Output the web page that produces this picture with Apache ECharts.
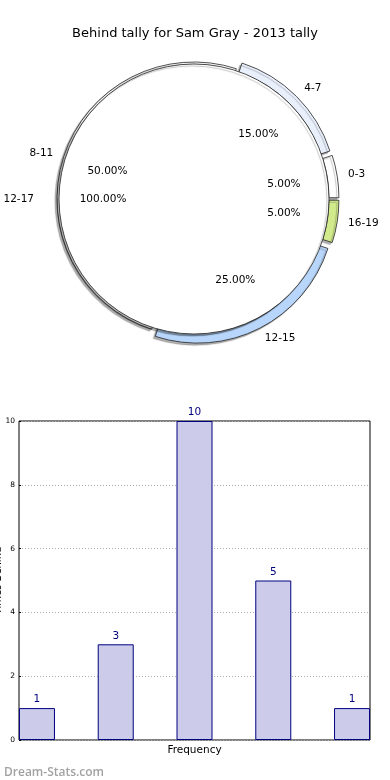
<!DOCTYPE html>
<html>
<head>
<meta charset="utf-8">
<script src="https://cdn.jsdelivr.net/npm/echarts@6/dist/echarts.min.js"></script>
<style>
html,body{margin:0;padding:0;background:#fff;}
#chart{width:390px;height:780px;}
</style>
</head>
<body>
<div id="chart"></div>
<script>
// ---- data ----
var titleText = 'Behind tally for Sam Gray - 2013 tally';
var ringCategories = ['0-3', '4-7', '8-11', '12-15', '16-19'];
var ringValues = [1, 3, 10, 5, 1];
var ringColors = ['#ffffff', '#e9f0fc', '#ffffff', '#b8d6fb', '#d1ea8c'];
var ringExploded = [true, true, false, true, true];
var innerCategories = ['12-17'];
var innerValues = [20];
var barCategories = ['0-3', '4-7', '8-11', '12-15', '16-19'];
var barValues = [1, 3, 10, 5, 1];
var yTicks = [0, 2, 4, 6, 8, 10];
var xAxisName = 'Frequency';
var yAxisName = 'Times Behind';
var watermark = 'Dream-Stats.com';

// ---- layout ----
var CENTER = [194, 199];
var R = 135;
var shadow = {shadowBlur: 1, shadowColor: 'rgba(0,0,0,0.3)', shadowOffsetX: -2, shadowOffsetY: 2};
var barHalf = 0.228;

var chart = echarts.init(document.getElementById('chart'), null, {renderer: 'canvas'});

var ringData = ringCategories.map(function (c, i) {
  return {name: c, value: ringValues[i], selected: ringExploded[i],
    itemStyle: {color: ringColors[i]}};
});
var ringPctData = ringCategories.map(function (c, i) {
  return {name: c, value: ringValues[i]};
});
var innerData = innerCategories.map(function (c, i) {
  return {name: c, value: innerValues[i]};
});

var pctLabel = {
  show: true, position: 'inside', color: '#000', fontSize: 10.5,
  formatter: function (p) { return p.percent.toFixed(2) + '%'; }
};
var nameLabelBase = {show: true, position: 'outside', color: '#000', fontSize: 10.5,
  distanceToLabelLine: 0, overflow: 'none', edgeDistance: 0};

var option = {
  animation: false,
  textStyle: {fontFamily: 'DejaVu Sans'},
  title: [
    {text: titleText, left: 'center', top: 22,
      textStyle: {fontSize: 13, fontWeight: 'normal', color: '#000', fontFamily: 'DejaVu Sans'}},
    {text: watermark, left: -1, top: 762,
      textStyle: {fontSize: 12, fontWeight: 600, color: '#a2a2a2', fontFamily: 'Open Sans'}}
  ],
  grid: {left: 19, top: 421, width: 351, height: 319, show: true,
    outerBoundsMode: 'none', containLabel: false,
    borderColor: '#000', borderWidth: 1, backgroundColor: '#fff'},
  xAxis: {
    type: 'value', min: 0, max: 4 + 2 * barHalf,
    axisLabel: {show: false}, axisTick: {show: false}, axisLine: {show: false},
    splitLine: {show: false},
    name: xAxisName, nameLocation: 'middle', nameGap: 5,
    nameTextStyle: {fontSize: 10.5, color: '#000'}
  },
  yAxis: {
    type: 'value', min: yTicks[0], max: yTicks[yTicks.length - 1], interval: 2,
    axisLine: {show: false},
    axisTick: {show: true, inside: true, length: 2, lineStyle: {color: '#000'}},
    axisLabel: {fontSize: 7.5, color: '#000', margin: 4},
    splitLine: {show: true, lineStyle: {type: [1, 2], color: '#aaaaaa', width: 1}},
    name: yAxisName, nameLocation: 'middle', nameRotate: 90, nameGap: 16,
    nameMoveOverlap: false,
    nameTextStyle: {fontSize: 10, color: '#000'}
  },
  series: [
    {
      type: 'pie', z: 2, center: CENTER, radius: [R - 8, R + 2],
      clockwise: false, startAngle: 0, selectedMode: 'multiple', selectedOffset: 8,
      avoidLabelOverlap: false,
      emphasis: {disabled: true, scale: false},
      itemStyle: Object.assign({borderColor: '#222', borderWidth: 0.8}, shadow),
      label: Object.assign({}, nameLabelBase),
      labelLine: {show: false, length: 11, length2: 0},
      data: ringData
    },
    {
      type: 'pie', z: 3, center: CENTER, radius: [0, R],
      clockwise: false, startAngle: 0,
      emphasis: {disabled: true, scale: false},
      itemStyle: Object.assign({color: '#ffffff', borderColor: '#222', borderWidth: 0.8}, shadow),
      label: Object.assign({}, nameLabelBase),
      labelLine: {show: false, length: 25, length2: 0},
      data: innerData
    },
    {
      type: 'pie', z: 4, center: CENTER, radius: [0, 176],
      clockwise: false, startAngle: 0, silent: true,
      emphasis: {disabled: true, scale: false},
      itemStyle: {color: 'rgba(0,0,0,0)', borderWidth: 0},
      label: pctLabel, labelLine: {show: false},
      data: ringPctData
    },
    {
      type: 'pie', z: 4, center: CENTER, radius: [0, 176],
      clockwise: false, startAngle: 0, silent: true,
      emphasis: {disabled: true, scale: false},
      itemStyle: {color: 'rgba(0,0,0,0)', borderWidth: 0},
      label: pctLabel, labelLine: {show: false},
      data: innerData
    },
    {
      type: 'bar', barWidth: 36,
      itemStyle: {color: '#ccccea', borderColor: '#00007f', borderWidth: 1},
      label: {show: true, position: 'top', distance: 3, color: '#00007f', fontSize: 10.5,
        formatter: function (p) { return p.value[1]; }},
      emphasis: {disabled: true},
      data: barValues.map(function (v, i) {
        return {name: barCategories[i], value: [i + barHalf, v]};
      })
    }
  ]
};
chart.setOption(option);
</script>
</body>
</html>
